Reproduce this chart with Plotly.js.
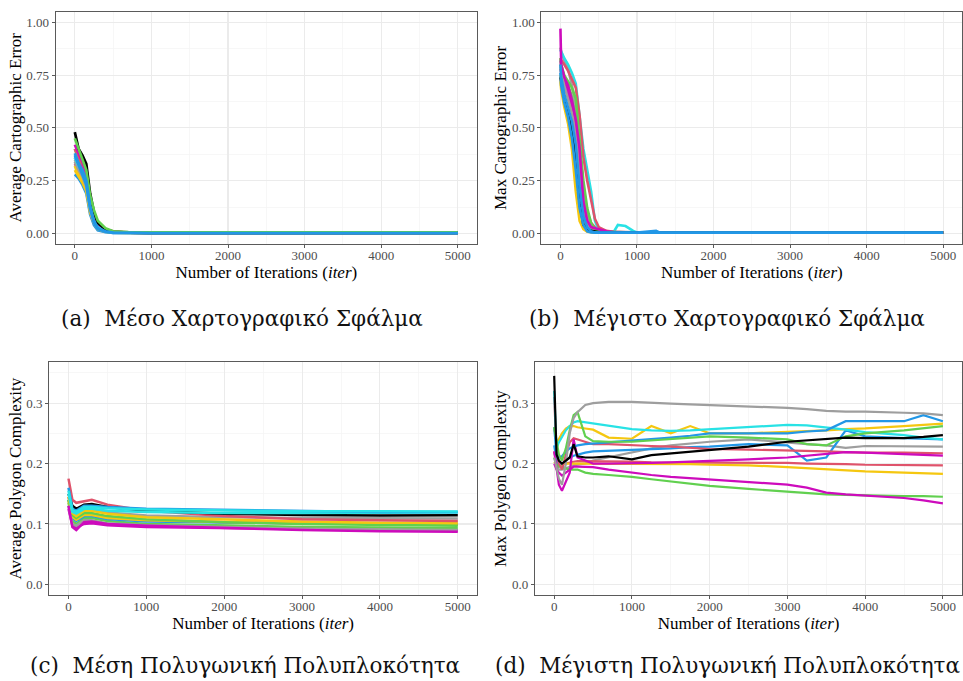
<!DOCTYPE html>
<html>
<head>
<meta charset="utf-8">
<script src="https://cdn.plot.ly/plotly-3.0.1.min.js"></script>
<style>html,body{margin:0;padding:0;background:#fff;}#chart{width:963px;height:681px;}</style>
</head>
<body>
<div id="chart"></div>
<script>
// R default palette (v4)
const colBlack = "#000000", colRed = "#DF536B", colGreen = "#61D04F", colBlue = "#2297E6",
      colCyan = "#28E2E5", colMagenta = "#CD0BBC", colYellow = "#F5C710", colGray = "#9E9E9E";

// ---------- (a) Average cartographic error ----------
const iterA = [0, 50, 100, 150, 200, 250, 300, 400, 500, 700, 1000, 5000];
const avgErrRed2     = [0.33, 0.30, 0.27, 0.23, 0.14, 0.08, 0.04, 0.015, 0.007, 0.004, 0.003, 0.003];
const avgErrGreen2   = [0.40, 0.35, 0.31, 0.27, 0.15, 0.09, 0.05, 0.02, 0.008, 0.004, 0.003, 0.003];
const avgErrBlue2    = [0.28, 0.26, 0.23, 0.19, 0.09, 0.04, 0.015, 0.006, 0.003, 0.002, 0.002, 0.002];
const avgErrYellow2  = [0.32, 0.28, 0.25, 0.21, 0.12, 0.06, 0.03, 0.012, 0.005, 0.003, 0.002, 0.002];
const avgErrMagenta2 = [0.36, 0.33, 0.31, 0.26, 0.14, 0.07, 0.035, 0.015, 0.006, 0.003, 0.002, 0.002];
const avgErrGray2    = [0.35, 0.31, 0.28, 0.24, 0.13, 0.065, 0.03, 0.012, 0.005, 0.003, 0.002, 0.002];
const avgErrRed      = [0.40, 0.36, 0.33, 0.28, 0.16, 0.09, 0.05, 0.02, 0.01, 0.005, 0.004, 0.004];
const avgErrMagenta  = [0.42, 0.38, 0.34, 0.29, 0.15, 0.08, 0.04, 0.02, 0.008, 0.004, 0.003, 0.003];
const avgErrYellow   = [0.30, 0.27, 0.24, 0.20, 0.10, 0.05, 0.02, 0.008, 0.004, 0.002, 0.002, 0.002];
const avgErrGray     = [0.34, 0.30, 0.27, 0.22, 0.11, 0.05, 0.025, 0.01, 0.005, 0.003, 0.002, 0.002];
const avgErrCyan     = [0.36, 0.32, 0.29, 0.24, 0.12, 0.06, 0.03, 0.01, 0.005, 0.003, 0.002, 0.002];
const avgErrBlack    = [0.48, 0.40, 0.37, 0.33, 0.19, 0.10, 0.05, 0.02, 0.008, 0.004, 0.003, 0.003];
const avgErrGreen    = [0.45, 0.40, 0.35, 0.30, 0.18, 0.11, 0.06, 0.025, 0.01, 0.006, 0.005, 0.005];
const avgErrBlue3    = [0.37, 0.32, 0.28, 0.23, 0.12, 0.05, 0.02, 0.008, 0.003, 0.002, 0.001, 0.001];
const avgErrBlue     = [0.38, 0.33, 0.30, 0.25, 0.13, 0.06, 0.025, 0.01, 0.004, 0.002, 0.002, 0.002];

// ---------- (b) Max cartographic error ----------
const iterB = [0, 10, 50, 100, 150, 200, 250, 300, 350, 400, 450, 500, 600, 700, 750, 850, 950, 1000, 1250, 1300, 5000];
const maxErrRed2     = [0.78, 0.76, 0.72, 0.68, 0.62, 0.55, 0.40, 0.22, 0.10, 0.05, 0.03, 0.02, 0.01, 0.005, 0.005, 0.005, 0.005, 0.005, 0.005, 0.005, 0.005];
const maxErrGreen2   = [0.80, 0.78, 0.74, 0.70, 0.65, 0.58, 0.38, 0.18, 0.07, 0.03, 0.01, 0.006, 0.005, 0.005, 0.005, 0.005, 0.005, 0.005, 0.005, 0.005, 0.005];
const maxErrYellow2  = [0.75, 0.70, 0.63, 0.56, 0.46, 0.32, 0.14, 0.05, 0.02, 0.008, 0.005, 0.005, 0.005, 0.005, 0.005, 0.005, 0.005, 0.005, 0.005, 0.005, 0.005];
const maxErrMagenta2 = [0.82, 0.79, 0.73, 0.67, 0.60, 0.50, 0.30, 0.12, 0.05, 0.025, 0.015, 0.01, 0.006, 0.005, 0.005, 0.005, 0.005, 0.005, 0.005, 0.005, 0.005];
const maxErrGray2    = [0.79, 0.76, 0.70, 0.64, 0.57, 0.48, 0.30, 0.13, 0.05, 0.02, 0.01, 0.006, 0.005, 0.005, 0.005, 0.005, 0.005, 0.005, 0.005, 0.005, 0.005];
const maxErrGray     = [0.88, 0.86, 0.82, 0.78, 0.70, 0.60, 0.42, 0.20, 0.08, 0.03, 0.01, 0.006, 0.005, 0.005, 0.005, 0.005, 0.005, 0.005, 0.005, 0.005, 0.005];
const maxErrCyan     = [0.87, 0.86, 0.83, 0.80, 0.76, 0.71, 0.55, 0.40, 0.30, 0.20, 0.06, 0.015, 0.01, 0.01, 0.04, 0.035, 0.012, 0.005, 0.005, 0.005, 0.005];
const maxErrRed      = [0.83, 0.82, 0.80, 0.77, 0.73, 0.69, 0.56, 0.36, 0.25, 0.16, 0.07, 0.03, 0.012, 0.008, 0.006, 0.005, 0.005, 0.005, 0.005, 0.005, 0.005];
const maxErrGreen    = [0.83, 0.80, 0.75, 0.72, 0.69, 0.64, 0.45, 0.25, 0.12, 0.05, 0.02, 0.01, 0.006, 0.005, 0.005, 0.005, 0.005, 0.005, 0.005, 0.005, 0.005];
const maxErrMagenta  = [0.97, 0.80, 0.74, 0.70, 0.63, 0.54, 0.40, 0.15, 0.06, 0.03, 0.025, 0.02, 0.01, 0.005, 0.005, 0.005, 0.005, 0.005, 0.005, 0.005, 0.005];
const maxErrYellow   = [0.72, 0.68, 0.60, 0.52, 0.40, 0.20, 0.06, 0.02, 0.008, 0.005, 0.005, 0.005, 0.005, 0.005, 0.005, 0.005, 0.005, 0.005, 0.005, 0.005, 0.005];
const maxErrBlack    = [0.74, 0.72, 0.64, 0.57, 0.50, 0.36, 0.14, 0.04, 0.02, 0.013, 0.008, 0.005, 0.004, 0.004, 0.004, 0.004, 0.004, 0.004, 0.004, 0.004, 0.004];
const maxErrBlue2    = [0.76, 0.70, 0.62, 0.55, 0.45, 0.30, 0.12, 0.04, 0.01, 0.005, 0.004, 0.004, 0.004, 0.004, 0.004, 0.004, 0.004, 0.004, 0.004, 0.004, 0.004];
const maxErrBlue     = [0.80, 0.74, 0.66, 0.60, 0.53, 0.42, 0.22, 0.08, 0.03, 0.01, 0.005, 0.004, 0.004, 0.004, 0.004, 0.004, 0.004, 0.004, 0.012, 0.004, 0.004];

// ---------- (c) Average polygon complexity ----------
const iterC = [0, 50, 100, 200, 300, 500, 1000, 2000, 3000, 4000, 5000];
const avgCxGray2    = [0.140, 0.120, 0.115, 0.124, 0.124, 0.119, 0.114, 0.111, 0.110, 0.109, 0.109];
const avgCxRed2     = [0.145, 0.115, 0.110, 0.117, 0.117, 0.112, 0.107, 0.103, 0.101, 0.100, 0.0996];
const avgCxGreen2   = [0.135, 0.105, 0.100, 0.110, 0.110, 0.105, 0.100, 0.097, 0.095, 0.094, 0.093];
const avgCxBlue2    = [0.140, 0.110, 0.105, 0.113, 0.113, 0.108, 0.104, 0.102, 0.101, 0.101, 0.100];
const avgCxYellow2  = [0.138, 0.112, 0.107, 0.115, 0.115, 0.110, 0.106, 0.103, 0.101, 0.100, 0.099];
const avgCxMagenta2 = [0.125, 0.098, 0.094, 0.100, 0.101, 0.098, 0.095, 0.093, 0.091, 0.090, 0.089];
const avgCxGray     = [0.130, 0.100, 0.097, 0.106, 0.106, 0.101, 0.098, 0.095, 0.092, 0.091, 0.090];
const avgCxGreen    = [0.140, 0.115, 0.110, 0.118, 0.118, 0.113, 0.108, 0.103, 0.100, 0.098, 0.097];
const avgCxYellow   = [0.145, 0.118, 0.113, 0.122, 0.122, 0.117, 0.111, 0.107, 0.104, 0.102, 0.102];
const avgCxMagenta  = [0.130, 0.095, 0.090, 0.103, 0.104, 0.100, 0.097, 0.093, 0.090, 0.088, 0.087];
const avgCxRed      = [0.175, 0.140, 0.135, 0.138, 0.140, 0.132, 0.122, 0.113, 0.108, 0.106, 0.105];
const avgCxBlack    = [0.150, 0.130, 0.125, 0.132, 0.133, 0.128, 0.122, 0.117, 0.115, 0.114, 0.1145];
const avgCxCyan2    = [0.150, 0.120, 0.117, 0.125, 0.125, 0.122, 0.120, 0.118, 0.118, 0.119, 0.119];
const avgCxBlue     = [0.160, 0.125, 0.122, 0.130, 0.130, 0.128, 0.125, 0.123, 0.121, 0.120, 0.120];
const avgCxCyan     = [0.155, 0.123, 0.120, 0.128, 0.128, 0.126, 0.124, 0.122, 0.121, 0.121, 0.1206];

// ---------- (d) Max polygon complexity ----------
const iterD = [0, 30, 60, 100, 150, 200, 250, 300, 400, 500, 700, 1000, 1250, 1500, 1750, 2000, 2500, 3000, 3250, 3500, 3750, 4000, 4500, 4750, 5000];
const maxCxGray2    = [0.22, 0.20, 0.19, 0.19, 0.192, 0.195, 0.197, 0.198, 0.20, 0.205, 0.21, 0.218, 0.225, 0.23, 0.233, 0.236, 0.24, 0.234, 0.232, 0.23, 0.226, 0.229, 0.229, 0.228, 0.228];
const maxCxRed2     = [0.22, 0.205, 0.20, 0.198, 0.20, 0.202, 0.203, 0.204, 0.204, 0.204, 0.203, 0.203, 0.202, 0.202, 0.202, 0.202, 0.202, 0.201, 0.20, 0.20, 0.199, 0.198, 0.198, 0.197, 0.197];
const maxCxYellow2  = [0.20, 0.205, 0.20, 0.198, 0.20, 0.20, 0.20, 0.20, 0.20, 0.20, 0.20, 0.20, 0.20, 0.199, 0.199, 0.198, 0.197, 0.194, 0.192, 0.19, 0.188, 0.187, 0.185, 0.184, 0.183];
const maxCxGreen2   = [0.21, 0.20, 0.195, 0.195, 0.192, 0.19, 0.19, 0.19, 0.185, 0.183, 0.181, 0.178, 0.174, 0.17, 0.167, 0.163, 0.158, 0.153, 0.151, 0.149, 0.148, 0.147, 0.146, 0.146, 0.145];
const maxCxMagenta2 = [0.20, 0.19, 0.185, 0.18, 0.185, 0.19, 0.195, 0.195, 0.195, 0.194, 0.19, 0.185, 0.181, 0.178, 0.176, 0.174, 0.169, 0.165, 0.16, 0.152, 0.149, 0.147, 0.143, 0.139, 0.134];
const maxCxBlue2    = [0.23, 0.205, 0.20, 0.20, 0.205, 0.21, 0.213, 0.215, 0.218, 0.22, 0.221, 0.222, 0.224, 0.225, 0.227, 0.228, 0.232, 0.23, 0.205, 0.21, 0.255, 0.245, 0.242, 0.241, 0.24];
const maxCxRed      = [0.31, 0.22, 0.20, 0.19, 0.215, 0.235, 0.242, 0.24, 0.235, 0.232, 0.232, 0.231, 0.229, 0.228, 0.226, 0.224, 0.223, 0.222, 0.221, 0.22, 0.219, 0.218, 0.218, 0.217, 0.217];
const maxCxMagenta  = [0.22, 0.19, 0.165, 0.155, 0.17, 0.185, 0.24, 0.21, 0.205, 0.20, 0.20, 0.20, 0.201, 0.202, 0.203, 0.204, 0.207, 0.21, 0.213, 0.216, 0.219, 0.218, 0.216, 0.214, 0.213];
const maxCxYellow   = [0.26, 0.235, 0.24, 0.25, 0.258, 0.262, 0.262, 0.26, 0.258, 0.256, 0.243, 0.241, 0.262, 0.25, 0.262, 0.25, 0.25, 0.252, 0.254, 0.255, 0.257, 0.258, 0.262, 0.264, 0.266];
const maxCxCyan     = [0.32, 0.225, 0.235, 0.245, 0.255, 0.262, 0.268, 0.27, 0.268, 0.266, 0.262, 0.257, 0.255, 0.254, 0.255, 0.257, 0.26, 0.264, 0.263, 0.26, 0.256, 0.252, 0.247, 0.243, 0.24];
const maxCxBlue     = [0.26, 0.215, 0.21, 0.212, 0.22, 0.225, 0.228, 0.23, 0.232, 0.233, 0.235, 0.237, 0.24, 0.243, 0.246, 0.25, 0.25, 0.25, 0.253, 0.255, 0.27, 0.27, 0.27, 0.28, 0.27];
const maxCxGreen    = [0.26, 0.235, 0.215, 0.205, 0.225, 0.255, 0.28, 0.285, 0.245, 0.237, 0.236, 0.236, 0.238, 0.24, 0.243, 0.245, 0.243, 0.24, 0.232, 0.23, 0.245, 0.25, 0.255, 0.258, 0.262];
const maxCxGray     = [0.21, 0.19, 0.175, 0.165, 0.20, 0.25, 0.275, 0.285, 0.297, 0.30, 0.302, 0.302, 0.30, 0.299, 0.298, 0.297, 0.295, 0.292, 0.29, 0.287, 0.286, 0.286, 0.284, 0.283, 0.28];
const maxCxBlack    = [0.345, 0.215, 0.205, 0.20, 0.205, 0.21, 0.232, 0.212, 0.21, 0.21, 0.212, 0.207, 0.214, 0.217, 0.219, 0.222, 0.228, 0.236, 0.238, 0.241, 0.243, 0.242, 0.242, 0.244, 0.247];

// ---------- text ----------
const xTitle = "Number of Iterations (<i>iter</i>)";
const yTitles = ["Average Cartographic Error", "Max Cartographic Error", "Average Polygon Complexity", "Max Polygon Complexity"];
const captions = ["(a)  Μέσο Χαρτογραφικό Σφάλμα", "(b)  Μέγιστο Χαρτογραφικό Σφάλμα",
                  "(c)  Μέση Πολυγωνική Πολυπλοκότητα", "(d)  Μέγιστη Πολυγωνική Πολυπλοκότητα"];

// ---------- build traces ----------
const traces = [];
function addSeries(x, list, xa, ya, width) {
  list.forEach(([y, c]) => traces.push({
    x: x, y: y, type: "scatter", mode: "lines", xaxis: xa, yaxis: ya,
    line: {color: c, width: width}, showlegend: false, hoverinfo: "skip"
  }));
}
addSeries(iterA, [[avgErrRed2, colRed], [avgErrGreen2, colGreen], [avgErrBlue2, colBlue], [avgErrYellow2, colYellow],
  [avgErrMagenta2, colMagenta], [avgErrGray2, colGray], [avgErrRed, colRed], [avgErrMagenta, colMagenta],
  [avgErrYellow, colYellow], [avgErrGray, colGray], [avgErrCyan, colCyan], [avgErrBlack, colBlack],
  [avgErrGreen, colGreen], [avgErrBlue3, colBlue], [avgErrBlue, colBlue]], "x", "y", 2.7);
addSeries(iterB, [[maxErrRed2, colRed], [maxErrGreen2, colGreen], [maxErrYellow2, colYellow], [maxErrMagenta2, colMagenta],
  [maxErrGray2, colGray], [maxErrGray, colGray], [maxErrCyan, colCyan], [maxErrRed, colRed],
  [maxErrGreen, colGreen], [maxErrMagenta, colMagenta], [maxErrYellow, colYellow], [maxErrBlack, colBlack],
  [maxErrBlue2, colBlue], [maxErrBlue, colBlue]], "x2", "y2", 2.6);
addSeries(iterC, [[avgCxGray2, colGray], [avgCxRed2, colRed], [avgCxGreen2, colGreen], [avgCxBlue2, colBlue],
  [avgCxYellow2, colYellow], [avgCxMagenta2, colMagenta], [avgCxGray, colGray], [avgCxGreen, colGreen],
  [avgCxYellow, colYellow], [avgCxMagenta, colMagenta], [avgCxRed, colRed], [avgCxBlack, colBlack],
  [avgCxCyan2, colCyan], [avgCxBlue, colBlue], [avgCxCyan, colCyan]], "x3", "y3", 2.5);
addSeries(iterD, [[maxCxGray2, colGray], [maxCxRed2, colRed], [maxCxYellow2, colYellow], [maxCxGreen2, colGreen],
  [maxCxMagenta2, colMagenta], [maxCxBlue2, colBlue], [maxCxRed, colRed], [maxCxMagenta, colMagenta],
  [maxCxYellow, colYellow], [maxCxCyan, colCyan], [maxCxBlue, colBlue], [maxCxGreen, colGreen],
  [maxCxGray, colGray], [maxCxBlack, colBlack]], "x4", "y4", 2.2);

// ---------- axes ----------
const serif = "Liberation Serif, Times New Roman, serif";
function xAxis(domain, anchor) {
  return {
    domain: domain, anchor: anchor, range: [-250, 5250], tick0: 0, dtick: 1000,
    showgrid: true, gridcolor: "#EBEBEB", gridwidth: 1.1, zeroline: false,
    minor: {dtick: 500, tick0: 0, showgrid: true, gridcolor: "#F4F4F4", gridwidth: 0.7},
    showline: true, mirror: true, linecolor: "#5a5a5a", linewidth: 1,
    ticks: "outside", ticklen: 3, tickwidth: 1, tickcolor: "#5a5a5a", ticklabelstandoff: -4,
    tickfont: {family: serif, size: 13, color: "#4D4D4D"},
    title: {text: xTitle, font: {family: serif, size: 17, color: "#000"}, standoff: 1},
    automargin: false, fixedrange: true
  };
}
function yAxis(domain, anchor, range, dtick, fmt, title) {
  return {
    domain: domain, anchor: anchor, range: range, tick0: 0, dtick: dtick, tickformat: fmt,
    showgrid: true, gridcolor: "#EBEBEB", gridwidth: 1.1, zeroline: false,
    minor: {dtick: dtick / 2, tick0: 0, showgrid: true, gridcolor: "#F4F4F4", gridwidth: 0.7},
    showline: true, mirror: true, linecolor: "#5a5a5a", linewidth: 1,
    ticks: "outside", ticklen: 3, tickwidth: 1, tickcolor: "#5a5a5a",
    tickfont: {family: serif, size: 13, color: "#4D4D4D"},
    title: {text: title, font: {family: serif, size: 17, color: "#000"}, standoff: 0},
    automargin: false, fixedrange: true
  };
}
const yTop = [0.6417, 0.9828], yBot = [0.1263, 0.468];
const layout = {
  width: 963, height: 681, margin: {l: 0, r: 0, t: 0, b: 0},
  paper_bgcolor: "#fff", plot_bgcolor: "#fff", showlegend: false,
  xaxis:  xAxis([0.0578, 0.4953], "y"),
  yaxis:  yAxis(yTop, "x", [-0.05, 1.05], 0.25, ".2f", yTitles[0]),
  xaxis2: xAxis([0.5621, 0.9993], "y2"),
  yaxis2: yAxis(yTop, "x2", [-0.05, 1.05], 0.25, ".2f", yTitles[1]),
  xaxis3: xAxis([0.0509, 0.4956], "y3"),
  yaxis3: yAxis(yBot, "x3", [-0.0175, 0.3675], 0.1, ".1f", yTitles[2]),
  xaxis4: xAxis([0.5553, 0.9993], "y4"),
  yaxis4: yAxis(yBot, "x4", [-0.0175, 0.3675], 0.1, ".1f", yTitles[3]),
  annotations: [
    {text: captions[0], x: 242 / 963, y: 1 - 318 / 681},
    {text: captions[1], x: 727 / 963, y: 1 - 318 / 681},
    {text: captions[2], x: 245 / 963, y: 1 - 665 / 681},
    {text: captions[3], x: 727 / 963, y: 1 - 665 / 681}
  ].map(a => Object.assign(a, {xref: "paper", yref: "paper", xanchor: "center", yanchor: "middle",
        showarrow: false, font: {family: "DejaVu Serif", size: 21.5, color: "#111"}}))
};
Plotly.newPlot("chart", traces, layout, {staticPlot: true, displayModeBar: false});
</script>
</body>
</html>
